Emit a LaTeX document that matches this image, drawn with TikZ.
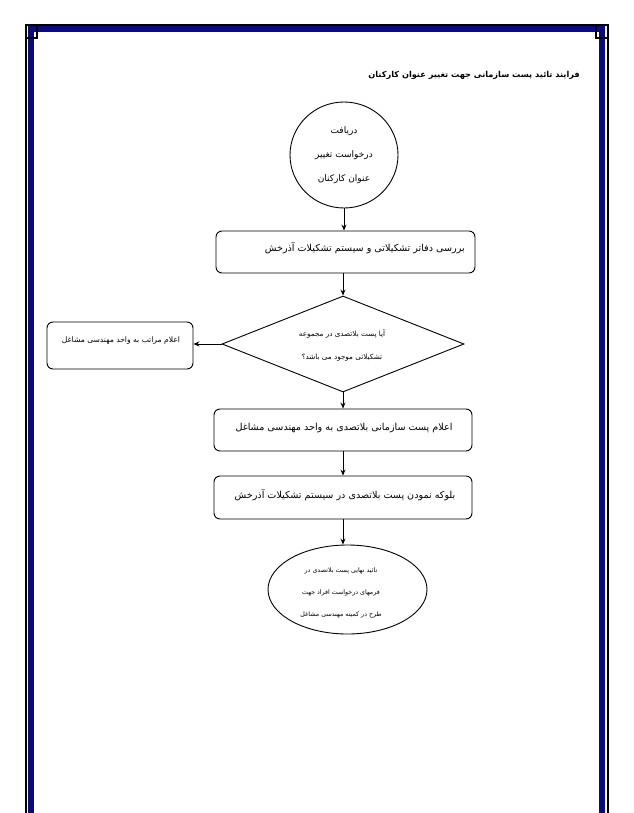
\documentclass[tikz,border=0pt]{standalone}
\usepackage{fontspec}
\usetikzlibrary{shapes.geometric,arrows.meta}
\newfontfamily\fafont[Script=Arabic]{DejaVu Sans}
\TeXXeTstate=1
\newcommand{\fa}[1]{\beginR #1\endR}
\definecolor{bordblue}{RGB}{10,10,130}
\begin{document}
\begin{tikzpicture}[x=1pt,y=-1pt,
  box/.style={draw, rounded corners=6pt, line width=0.9pt, inner sep=0pt},
  arr/.style={-{Stealth[length=6pt,width=5pt]}, line width=0.9pt},
  txtbig/.style={font=\fafont\fontsize{9.6}{12}\selectfont, inner sep=0pt},
  txtsmall/.style={font=\fafont\fontsize{7.2}{23}\selectfont, inner sep=0pt, align=center},
  blueline/.style={draw=bordblue, line width=5.5pt},
  blackline/.style={draw=black, line width=1.6pt}]
\useasboundingbox[fill=white] (0,0) rectangle (633,813);
% page border
\draw[blueline] (30.8,29) -- (30.8,813);
\draw[blueline] (602.2,29) -- (602.2,813);
\draw[draw=bordblue, line width=7pt] (28,29) -- (605,29);
\draw[blackline] (26,24.8) -- (607.8,24.8);
\draw[blackline] (26,24) -- (26,813);
\draw[blackline] (607.8,38) -- (607.8,813);
\draw[black, line width=1.2pt] (25.5,24.5) rectangle (37,38);
\draw[black, line width=1.2pt] (596,24.5) rectangle (608,38);
% title
\node[font=\fafont\bfseries\fontsize{8.2}{12}\selectfont, inner sep=0pt, anchor=east] (title) at (580,75)
  {\fa{فرایند تائید پست سازمانی جهت تغییر عنوان کارکنان}};
% start
\node[draw, ellipse, minimum width=108pt, minimum height=106pt, inner sep=0pt, line width=0.9pt,
  align=center, font=\fafont\fontsize{9}{24}\selectfont] (start) at (344,155)
  {\fa{دریافت}\\\fa{درخواست تغییر}\\\fa{عنوان کارکنان}};
% box 1
\node[box, minimum width=259pt, minimum height=42pt] (b1) at (345.5,252) {};
\node[txtbig, anchor=east] (t1) at (465,248) {\fa{بررسی دفاتر تشکیلاتی و سیستم تشکیلات آذرخش}};
% decision
\node[draw, diamond, minimum width=242pt, minimum height=96pt, inner sep=0pt, line width=0.9pt] (q) at (343,344) {};
\node[txtsmall] (qt) at (342,345.5) {\fa{آیا پست بلاتصدی در مجموعه}\\\fa{تشکیلاتی موجود می باشد؟}};
% left box
\node[box, minimum width=146pt, minimum height=47pt] (lb) at (120,345.5) {};
\node[txtsmall, font=\fafont\fontsize{7.6}{12}\selectfont] (lt) at (121,341) {\fa{اعلام مراتب به واحد مهندسی مشاغل}};
% box 2
\node[box, minimum width=258pt, minimum height=42pt] (b2) at (343,430) {};
\node[txtbig] (t2) at (344,428) {\fa{اعلام پست سازمانی بلاتصدی به واحد مهندسی مشاغل}};
% box 3
\node[box, minimum width=258pt, minimum height=43pt] (b3) at (343,497.5) {};
\node[txtbig] (t3) at (345,495) {\fa{بلوکه نمودن پست بلاتصدی در سیستم تشکیلات آذرخش}};
% end
\node[draw, ellipse, minimum width=159pt, minimum height=89pt, inner sep=0pt, line width=0.9pt] (end) at (347.5,589.5) {};
\node[txtsmall, font=\fafont\fontsize{6.3}{22}\selectfont] (et) at (341,593)
  {\fa{تائید نهایی پست بلاتصدی در}\\\fa{فرمهای درخواست افراد جهت}\\\fa{طرح در کمیته مهندسی مشاغل}};
% connectors
\draw[arr] (start.south) -- (start.south |- b1.north);
\draw[arr] (q.north |- b1.south) -- (q.north);
\draw[arr] (q.west) -- (q.west -| lb.east);
\draw[arr] (q.south) -- (b2.north);
\draw[arr] (b2.south) -- (b3.north);
\draw[arr] (b3.south) -- (b3.south |- end.north);
\end{tikzpicture}
\end{document}
